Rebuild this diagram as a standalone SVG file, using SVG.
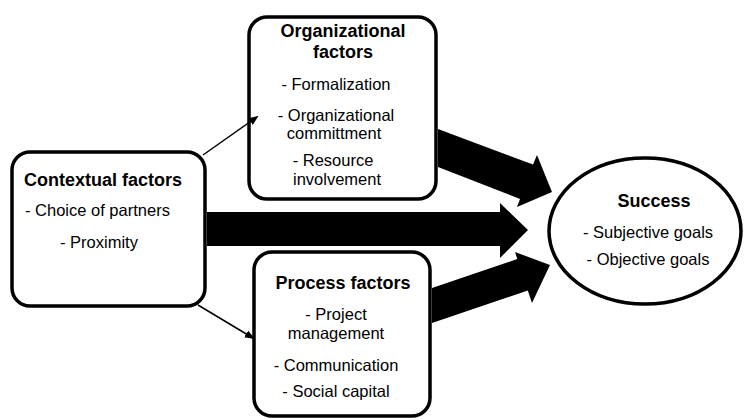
<svg xmlns="http://www.w3.org/2000/svg" width="744" height="420" viewBox="0 0 744 420">
<style>
.box{fill:#fff;stroke:#000;stroke-width:3.5}
.thin{fill:none;stroke:#000;stroke-width:1.5}
.big{fill:#000;stroke:none}
text{font-family:"Liberation Sans",Arial,sans-serif;fill:#000}
.t{font-size:18px;font-weight:bold}
.r{font-size:16.5px}
.m{text-anchor:middle}
</style>
<defs>
<marker id="ah" markerWidth="10" markerHeight="8" refX="8" refY="4" orient="auto" markerUnits="userSpaceOnUse">
<path d="M0,0 L10,4 L0,8 Z" fill="#000"/>
</marker>
</defs>
<rect width="744" height="420" fill="#fff"/>
<g id="contextual">
<rect class="box" x="12" y="152" width="193" height="154" rx="18"/>
<text class="t" x="24" y="186">Contextual factors</text>
<text class="r" x="25" y="216">- Choice of partners</text>
<text class="r" x="60" y="248">- Proximity</text>
</g>
<g id="organizational">
<rect class="box" x="249" y="17" width="187" height="182" rx="18"/>
<text class="t m" x="343" y="37">Organizational</text>
<text class="t m" x="343" y="58">factors</text>
<text class="r m" x="336" y="90">- Formalization</text>
<text class="r m" x="336" y="121">- Organizational</text>
<text class="r m" x="334" y="139">committment</text>
<text class="r m" x="333" y="166">- Resource</text>
<text class="r m" x="337" y="185">involvement</text>
</g>
<g id="process">
<rect class="box" x="254" y="252" width="176" height="164" rx="18"/>
<text class="t m" x="343" y="289">Process factors</text>
<text class="r m" x="336" y="320">- Project</text>
<text class="r m" x="336" y="339">management</text>
<text class="r m" x="336" y="371">- Communication</text>
<text class="r m" x="336" y="397">- Social capital</text>
</g>
<g id="success">
<ellipse class="box" cx="645" cy="231" rx="96" ry="73"/>
<text class="t m" x="654" y="207">Success</text>
<text class="r m" x="648" y="238">- Subjective goals</text>
<text class="r m" x="648" y="265">- Objective goals</text>
</g>
<g id="connectors">
<polygon class="big" points="438,129 533,164.5 537,155 552,192 517,207 520,199 438,167"/>
<polygon class="big" points="207,212 500,212 500,203 528,230 500,258 500,246 207,246"/>
<polygon class="big" points="432,288 517.3,259 515,252 550,265 532,303 527.8,290.5 432,323"/>
<line class="thin" x1="203" y1="155" x2="257" y2="117" marker-end="url(#ah)"/>
<line class="thin" x1="198" y1="305" x2="253" y2="338" marker-end="url(#ah)"/>
</g>
</svg>
